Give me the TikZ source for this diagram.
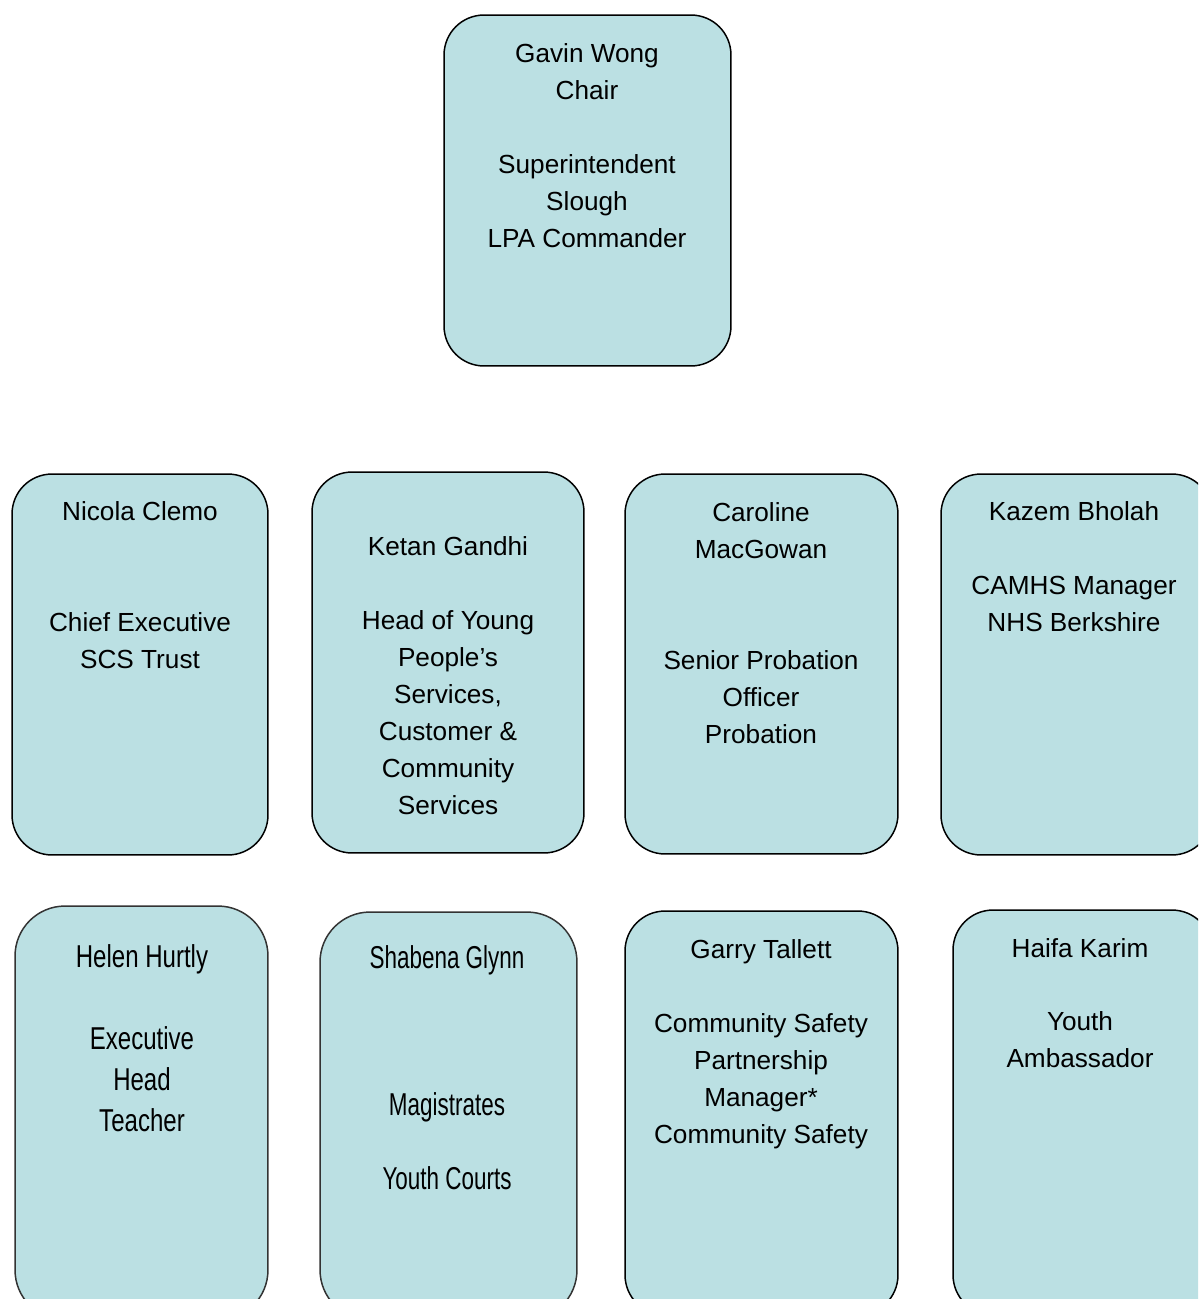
\documentclass[tikz,border=0pt]{standalone}
\usepackage{fontspec}
\setmainfont{Liberation Sans}
\newfontfamily\narrowA[FakeStretch=0.76]{Liberation Sans}
\newfontfamily\narrowB[FakeStretch=0.71]{Liberation Sans}
\definecolor{boxblue}{HTML}{BBE0E3}
\begin{document}
\begin{tikzpicture}[x=0.02cm,y=-0.02cm,
  box/.style={draw=black, line width=0.85pt, fill=boxblue, rounded corners=0.8cm, inner sep=0pt, outer sep=0pt},
  boxgray/.style={box, draw=black!80, rounded corners=1cm},
  txt/.style={inner sep=0pt, align=center, font=\fontsize{14.9}{21}\selectfont},
  txtA/.style={inner sep=0pt, align=center, font=\narrowA\fontsize{18}{23.3}\selectfont},
  txtB/.style={inner sep=0pt, align=center, font=\narrowB\fontsize{18}{21}\selectfont}]
\useasboundingbox (0,0) rectangle (1198,1299);
\clip (0,0) rectangle (1198,1299);
% boxes
\node[box, minimum width=5.74cm, minimum height=7.02cm] (top) at (587.5,190.5) {};
\node[box, minimum width=5.12cm, minimum height=7.62cm] (nicola) at (140,664.5) {};
\node[box, minimum width=5.44cm, minimum height=7.62cm] (ketan) at (448,662.5) {};
\node[box, minimum width=5.46cm, minimum height=7.60cm] (caroline) at (761.5,664) {};
\node[box, minimum width=5.42cm, minimum height=7.62cm] (kazem) at (1076.5,664.5) {};
\node[boxgray, minimum width=5.06cm, minimum height=8.28cm] (helen) at (141.5,1113) {};
\node[boxgray, minimum width=5.14cm, minimum height=8.16cm] (shabena) at (448.5,1116) {};
\node[box, minimum width=5.46cm, minimum height=8.08cm] (garry) at (761.5,1113) {};
\node[box, minimum width=5.18cm, minimum height=8.10cm] (haifa) at (1082.5,1112.5) {};
% texts
\node[txt] (ttop) at (587,145.5) {Gavin Wong\\Chair\\[21pt]Superintendent\\Slough\\LPA Commander};
\node[txt] (tnicola) at (140,585) {Nicola Clemo\\[42pt]Chief Executive\\SCS Trust};
\node[txt] (tketan) at (448,675.5) {Ketan Gandhi\\[21pt]Head of Young\\People’s\\Services,\\Customer \&\\Community\\Services};
\node[txt] (tcaroline) at (761,623) {Caroline\\MacGowan\\[42pt]Senior Probation\\Officer\\Probation};
\node[txt] (tkazem) at (1074,566.5) {Kazem Bholah\\[21pt]CAMHS Manager\\NHS Berkshire};
\node[txtA] (thelen) at (142,1038.5) {Helen Hurtly\\[23.3pt]Executive\\Head\\Teacher};
\node[txtB] (tshabena) at (447,1067.5) {Shabena Glynn\\[63pt]Magistrates\\[21pt]Youth Courts};
\node[txt] (tgarry) at (761,1044) {Garry Tallett\\[21pt]Community Safety\\Partnership\\Manager*\\Community Safety};
\node[txt] (thaifa) at (1080,1003) {Haifa Karim\\[21pt]Youth\\Ambassador};
\end{tikzpicture}
\end{document}
